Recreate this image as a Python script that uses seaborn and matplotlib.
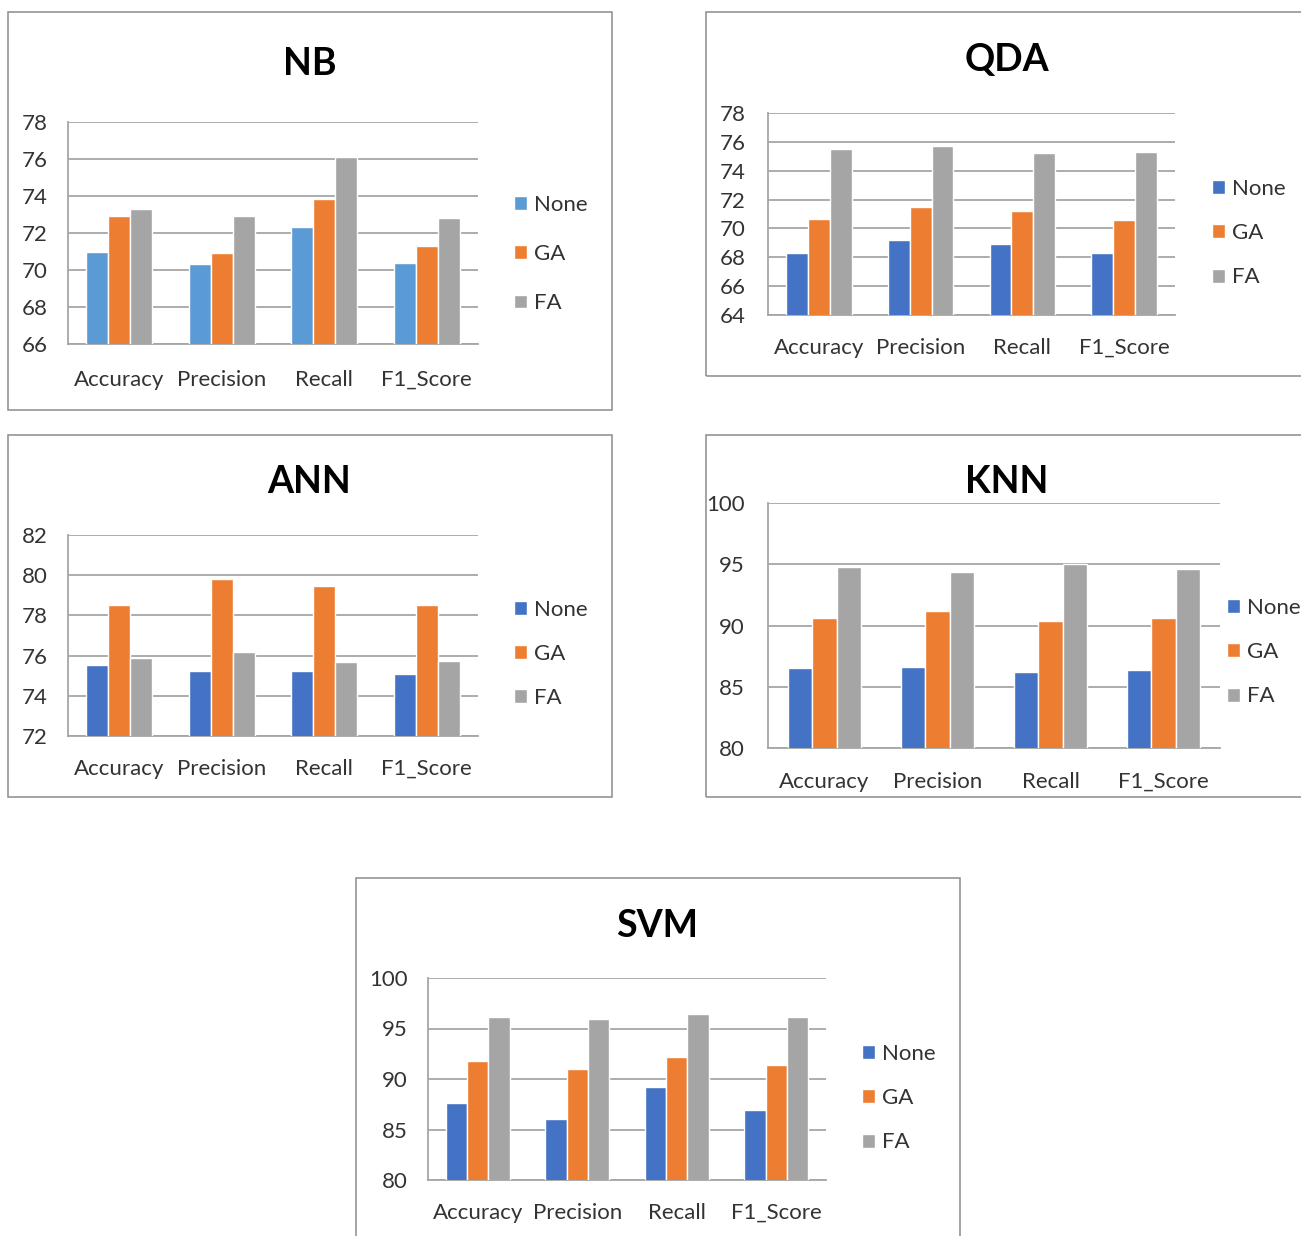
import matplotlib
matplotlib.use("Agg")
import matplotlib.pyplot as plt
from matplotlib.patches import Rectangle
import pandas as pd
import seaborn as sns

sns.set_theme(style="white")
plt.rcParams["font.family"] = ["Lato", "DejaVu Sans"]

metrics = ["Accuracy", "Precision", "Recall", "F1_Score"]
methods = ["None", "GA", "FA"]

nb_none = [71.0, 70.3, 72.3, 70.4]
nb_ga = [72.9, 70.9, 73.85, 71.3]
nb_fa = [73.3, 72.9, 76.1, 72.8]

qda_none = [68.3, 69.2, 68.95, 68.3]
qda_ga = [70.65, 71.5, 71.2, 70.6]
qda_fa = [75.5, 75.7, 75.2, 75.3]

ann_none = [75.55, 75.22, 75.22, 75.1]
ann_ga = [78.54, 79.8, 79.46, 78.54]
ann_fa = [75.89, 76.19, 75.67, 75.74]

knn_none = [86.55, 86.65, 86.2, 86.35]
knn_ga = [90.65, 91.15, 90.4, 90.6]
knn_fa = [94.8, 94.35, 95.05, 94.6]

svm_none = [87.65, 86.0, 89.25, 86.95]
svm_ga = [91.75, 91.0, 92.15, 91.4]
svm_fa = [96.15, 95.95, 96.4, 96.15]

BLUE = "#4472C4"
LIGHT_BLUE = "#5B9BD5"
ORANGE = "#ED7D31"
GREY = "#A5A5A5"
LINE = "#A6A6A6"
BORDER = "#8C8C8C"
TEXT = "#333333"

W, H = 1301, 1236
fig = plt.figure(figsize=(W / 100, H / 100), dpi=100)
fig.patch.set_facecolor("white")


def frame(x0, y0, x1, y1):
    fig.patches.append(Rectangle((x0 / W, 1 - y1 / H), (x1 - x0) / W, (y1 - y0) / H,
                                 transform=fig.transFigure, fill=False,
                                 edgecolor=BORDER, linewidth=1.1, zorder=0))


def panel(name, none, ga, fa, none_color, box, area, ylim, yticks,
          title_xy, legend_xy, ypad, xpad, legend_gap):
    frame(*box)
    ax0, ay0, ax1, ay1 = area
    ax = fig.add_axes([ax0 / W, 1 - ay1 / H, (ax1 - ax0) / W, (ay1 - ay0) / H])
    df = pd.DataFrame({
        "metric": metrics * 3,
        "method": [m for m in methods for _ in metrics],
        "value": list(none) + list(ga) + list(fa),
    })
    sns.barplot(data=df, x="metric", y="value", hue="method", order=metrics,
                hue_order=methods, palette=[none_color, ORANGE, GREY],
                width=0.645, saturation=1, ax=ax, legend=True, zorder=3)
    ax.set_ylim(*ylim)
    ax.set_yticks(yticks)
    ax.set_yticklabels([str(t) for t in yticks])
    ax.set_xlim(-0.5, 3.5)
    ax.set_xlabel("")
    ax.set_ylabel("")
    ax.yaxis.grid(True, color=LINE, linewidth=1.3, zorder=0)
    ax.set_axisbelow(True)
    for s in ["top", "right"]:
        ax.spines[s].set_visible(False)
    for s in ["left", "bottom"]:
        ax.spines[s].set_color(LINE)
        ax.spines[s].set_linewidth(1.3)
    ax.tick_params(axis="both", length=0, labelsize=16, colors=TEXT)
    ax.tick_params(axis="y", pad=ypad)
    ax.tick_params(axis="x", pad=xpad)
    fig.text(title_xy[0] / W, 1 - title_xy[1] / H, name, ha="center", va="center",
             fontsize=27, fontweight="bold", color="black")
    handles, labels = ax.get_legend_handles_labels()
    ax.legend(handles, labels, loc="center left",
              bbox_to_anchor=(legend_xy[0] / W, 1 - legend_xy[1] / H),
              bbox_transform=fig.transFigure, frameon=False, fontsize=16,
              handlelength=0.58, handleheight=0.58, handletextpad=0.3,
              labelspacing=legend_gap, borderpad=0, borderaxespad=0,
              labelcolor=TEXT)
    return ax


panel("NB", nb_none, nb_ga, nb_fa, LIGHT_BLUE,
      (8, 12, 612, 410), (68, 122, 478, 344), (66, 78), list(range(66, 80, 2)),
      (310, 64), (514, 254), 14.4, 18.5, 1.32)

panel("QDA", qda_none, qda_ga, qda_fa, BLUE,
      (706, 12, 1340, 376), (768, 113, 1175, 315), (64, 78), list(range(64, 80, 2)),
      (1007, 60), (1212, 233), 15.8, 16.5, 1.1)

panel("ANN", ann_none, ann_ga, ann_fa, BLUE,
      (8, 435, 612, 797), (68, 535, 478, 736), (72, 82), list(range(72, 84, 2)),
      (309, 482), (514, 654), 14.4, 16.5, 1.08)

panel("KNN", knn_none, knn_ga, knn_fa, BLUE,
      (706, 435, 1340, 797), (768, 503, 1220, 748), (80, 100), list(range(80, 105, 5)),
      (1007, 482), (1227, 652), 16.5, 17.0, 1.1)

panel("SVM", svm_none, svm_ga, svm_fa, BLUE,
      (356, 878, 960, 1280), (428, 978, 826, 1180), (80, 100), list(range(80, 105, 5)),
      (657, 926), (862, 1098), 14.4, 16.5, 1.1)

fig.savefig("out.png", dpi=100, facecolor="white")
